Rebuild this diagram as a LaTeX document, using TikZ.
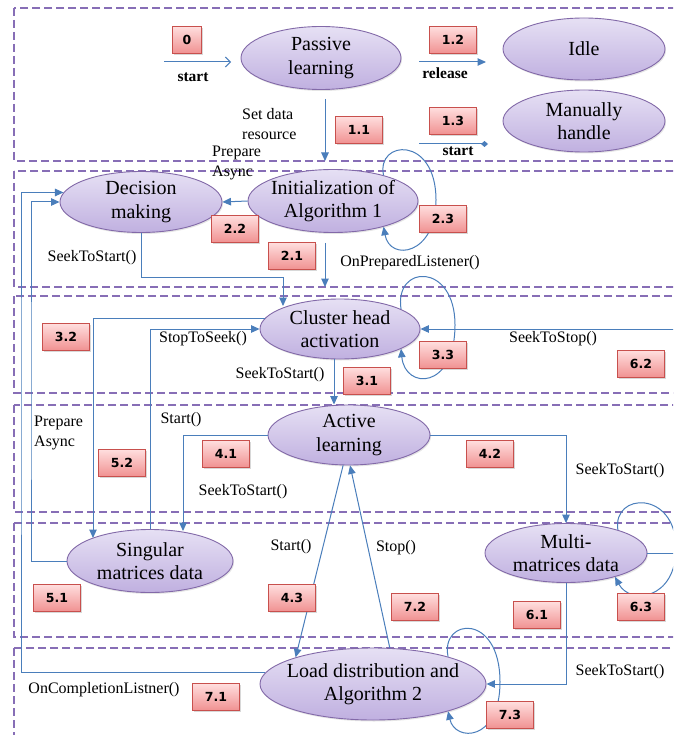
\documentclass[tikz,border=0pt]{standalone}
\usepackage{fontspec}
\setmainfont{Liberation Serif}
\newfontfamily\boxfont{DejaVu Sans}
\usetikzlibrary{arrows.meta,shapes.geometric,shadows}
\definecolor{lineblue}{RGB}{74,126,187}
\definecolor{dashpurple}{RGB}{135,110,182}
\definecolor{ellborder}{RGB}{130,105,168}
\definecolor{elltop}{RGB}{230,224,244}
\definecolor{ellbot}{RGB}{192,176,224}
\definecolor{boxborder}{RGB}{200,80,77}
\definecolor{boxtop}{RGB}{255,222,222}
\definecolor{boxbot}{RGB}{240,145,145}
\begin{document}
\begin{tikzpicture}[x=1pt,y=-1pt,
  region/.style={draw=dashpurple, dash pattern=on 8pt off 4pt, line width=1.1pt},
  state/.style={ellipse, draw=ellborder, line width=0.9pt, top color=elltop, bottom color=ellbot,
    align=center, inner xsep=-8pt, inner ysep=0pt, font=\fontsize{20}{23.5}\selectfont,
    drop shadow={shadow xshift=1pt, shadow yshift=-1.5pt, opacity=0.2}},
  tag/.style={rectangle, draw=boxborder, line width=0.8pt, top color=boxtop, bottom color=boxbot,
    minimum width=47pt, minimum height=27pt, inner sep=0pt,
    font=\boxfont\bfseries\fontsize{12.5}{14}\selectfont,
    drop shadow={shadow xshift=1.5pt, shadow yshift=-1.5pt, opacity=0.3}},
  lbl/.style={font=\fontsize{16}{19.5}\selectfont, inner sep=0pt, align=left},
  blbl/.style={font=\bfseries\fontsize{15.5}{18}\selectfont, inner sep=0pt},
  conn/.style={draw=lineblue, line width=1pt},
  arr/.style={conn, -{Triangle[length=8.5pt,width=7.5pt]}},
]
\useasboundingbox (0,0) rectangle (673,735);
\fill[white] (0,0) rectangle (673,735);
\clip (0,0) rectangle (673,735);

% regions
\draw[region] (14,8) rectangle (690,161);
\draw[region] (14,171) rectangle (690,287);
\draw[region] (14,296) rectangle (690,393);
\draw[region] (14,405) rectangle (690,512);
\draw[region] (14,523) rectangle (690,637);
\draw[region] (14,648) rectangle (690,750);

% states
\node[state, minimum width=160pt, minimum height=63pt] (pl) at (321,58) {Passive\\learning};
\node[state, minimum width=162pt, minimum height=62pt] (idle) at (584,49) {Idle};
\node[state, minimum width=162pt, minimum height=62pt] (mh) at (584,121) {Manually\\handle};
\node[state, minimum width=162pt, minimum height=61pt] (dm) at (141,202) {Decision\\making};
\node[state, minimum width=170pt, minimum height=63pt] (init) at (333,201) {Initialization of\\Algorithm 1};
\node[state, minimum width=160pt, minimum height=60pt] (ch) at (340,329) {Cluster head\\activation};
\node[state, minimum width=162pt, minimum height=60pt] (al) at (349,435) {Active\\learning};
\node[state, minimum width=166pt, minimum height=63pt] (smd) at (150,561) {Singular\\matrices data};
\node[state, minimum width=162pt, minimum height=59pt] (mmd) at (566,553) {Multi-\\matrices data};
\node[state, minimum width=226pt, minimum height=72pt] (ld) at (373,684) {Load distribution and\\Algorithm 2};

% coordinates
\coordinate (s0a) at (164,62);
\coordinate (s0b) at (231,62);
\coordinate (r0a) at (419,62);
\coordinate (r0b) at (486,62);
\coordinate (m0a) at (419,144);
\coordinate (m0b) at (488,144);
\coordinate (c11) at (325,161);
\coordinate (c21) at (325,287);
\coordinate (cdc1) at (283,277);
\coordinate (cdc2) at (283,306);
\coordinate (c62a) at (676,553);
\coordinate (c62b) at (676,329);
\coordinate (x31) at (334,0);
\coordinate (c32) at (93,538);
\coordinate (c51) at (31,400);
\coordinate (c71) at (21,400);
\coordinate (c41) at (183,531);

% connectors
\draw[conn, -{Straight Barb[length=5pt,width=10pt]}] (s0a) -- (s0b);
\draw[arr] (r0a) -- (r0b);
\draw[conn, -{Diamond[length=7pt,width=6pt]}] (m0a) -- (m0b);
\draw[arr, shorten <=9pt] (pl.south -| c11) -- (c11);
\draw[arr] (init.west) -- (dm.east);
\draw[arr, shorten <=10pt] (init.south -| c21) -- (c21);
\draw[arr] (dm.south) |- (cdc1) -- (cdc2);
\draw[arr] (init.27) .. controls (376,140) and (436,135) .. (436,200) .. controls (436,255) and (390,262) .. (init.-27);
\draw[arr] (ch.18) .. controls (394,264) and (455,262) .. (455,325) .. controls (455,390) and (405,390) .. (ch.-18);
\draw[arr] (mmd.24) .. controls (612,492) and (676,490) .. (676,548) .. controls (676,600) and (630,605) .. (mmd.-26);
\draw[arr] (ld.20) .. controls (440,618) and (500,612) .. (500,682) .. controls (500,742) and (455,742) .. (ld.-20);
\draw[arr] (mmd.east) -- (c62a) -- (c62b) -- (ch.east);
\draw[arr] (ch.south -| x31) -- (al.north -| x31);
\draw[arr] (smd.north) |- (ch.west);
\draw[arr] (ch.172) -| (c32);
\draw[arr] (smd.west) -| (c51) |- (dm.west);
\draw[arr] (ld.174) -| (c71) |- (dm.173);
\draw[arr] (al.west) -| (c41);
\draw[arr] (al.east) -| (mmd.north);
\draw[arr] (al.-101) -- (ld.161);
\draw[arr] (ld.65) -- (al.-88);
\draw[arr] (mmd.south) |- (ld.east);

% tags
\node[tag, minimum width=29pt] (t0) at (187,40) {0};
\node[tag] (t12) at (453,40) {1.2};
\node[tag] (t11) at (359,130) {1.1};
\node[tag] (t13) at (453,121) {1.3};
\node[tag] (t22) at (235,229) {2.2};
\node[tag] (t21) at (292,256) {2.1};
\node[tag] (t23) at (443,219) {2.3};
\node[tag] (t32) at (66,337) {3.2};
\node[tag] (t33) at (443,355) {3.3};
\node[tag] (t62) at (641,364) {6.2};
\node[tag] (t31) at (367,381) {3.1};
\node[tag] (t52) at (122,463) {5.2};
\node[tag] (t41) at (226,454) {4.1};
\node[tag] (t42) at (490,454) {4.2};
\node[tag] (t51) at (57,598) {5.1};
\node[tag] (t43) at (292,598) {4.3};
\node[tag] (t72) at (415,607) {7.2};
\node[tag] (t61) at (537,615) {6.1};
\node[tag] (t63) at (641,607) {6.3};
\node[tag] (t71) at (216,697) {7.1};
\node[tag] (t73) at (510,715) {7.3};

% labels
\node[lbl, anchor=west] (lsd) at (242,124) {Set data\\resource};
\node[lbl, anchor=west] (lpa1) at (212,163) {Prepare\\Async};
\node[lbl] (l21) at (92,258) {SeekToStart()};
\node[lbl] (l23) at (410,263) {OnPreparedListener()};
\node[lbl] (l32) at (203,339) {StopToSeek()};
\node[lbl] (l62) at (553,339) {SeekToStop()};
\node[lbl] (l31) at (280,375) {SeekToStart()};
\node[lbl, anchor=west] (lpa2) at (34,433) {Prepare\\Async};
\node[lbl] (l41a) at (181,420) {Start()};
\node[lbl] (l41b) at (243,492) {SeekToStart()};
\node[lbl] (l42) at (620,471) {SeekToStart()};
\node[lbl] (l43) at (291,547) {Start()};
\node[lbl] (l72) at (396,548) {Stop()};
\node[lbl] (l61) at (620,672) {SeekToStart()};
\node[lbl] (l71) at (104,690) {OnCompletionListner()};
\node[blbl] (ls0) at (193,77) {start};
\node[blbl] (lrel) at (445,73) {release};
\node[blbl] (ls13) at (458,151) {start};
\end{tikzpicture}
\end{document}
